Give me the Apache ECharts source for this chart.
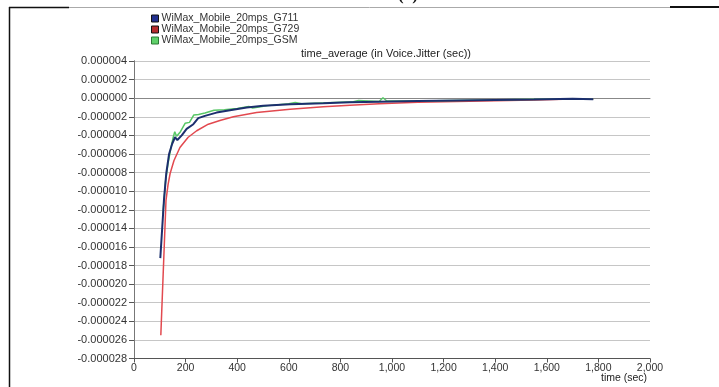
<!DOCTYPE html>
<html>
<head>
<meta charset="utf-8">
<script src="https://cdn.jsdelivr.net/npm/echarts@6/dist/echarts.min.js"></script>
<style>
  html, body { margin: 0; padding: 0; background: #fff; }
  #chart { width: 719px; height: 387px; }
</style>
</head>
<body>
<div id="chart"></div>
<script>
// Voice jitter time averages (seconds) for three codecs over a WiMAX mobile scenario
const seriesNames = ['WiMax_Mobile_20mps_G711', 'WiMax_Mobile_20mps_G729', 'WiMax_Mobile_20mps_GSM'];

const timeG711 = [102, 116, 125, 136, 148, 159, 168, 185, 204, 230, 249, 275, 320, 372, 437, 501, 605, 734, 837, 950, 1100, 1250, 1400, 1550, 1700, 1780];
const jitterG711 = [-0.0000172, -0.0000110, -0.0000081, -0.0000060, -0.0000049, -0.0000042, -0.0000045, -0.0000040, -0.0000033, -0.0000028, -0.00000215, -0.0000019, -0.00000155, -0.0000013, -0.0000010, -0.00000082, -0.00000065, -0.00000055, -0.00000045, -0.00000038, -0.0000003, -0.00000025, -0.0000002, -0.00000015, -0.00000005, -0.00000012];

const timeG729 = [104, 124, 132, 140, 155, 178, 210, 243, 288, 333, 385, 475, 605, 734, 837, 950, 1100, 1250, 1400, 1550, 1700, 1780];
const jitterG729 = [-0.0000255, -0.0000110, -0.0000093, -0.0000081, -0.0000067, -0.0000053, -0.0000042, -0.0000035, -0.0000028, -0.0000024, -0.0000020, -0.00000154, -0.00000118, -0.00000093, -0.00000075, -0.0000006, -0.00000045, -0.00000035, -0.00000028, -0.0000002, -0.0000001, -0.00000012];

const timeGSM = [112, 122, 132, 142, 152, 158, 165, 180, 198, 215, 232, 250, 275, 310, 350, 400, 445, 460, 520, 600, 625, 650, 750, 850, 870, 950, 965, 980, 1100, 1300, 1500, 1700, 1780];
const jitterGSM = [-0.0000125, -0.0000090, -0.0000070, -0.0000055, -0.0000042, -0.0000036, -0.0000041, -0.0000036, -0.0000027, -0.0000026, -0.0000018, -0.00000175, -0.0000016, -0.0000013, -0.00000125, -0.0000011, -0.0000009, -0.00000105, -0.0000008, -0.0000006, -0.00000045, -0.0000006, -0.0000005, -0.00000038, -0.00000025, -0.00000035, 0.00000005, -0.0000003, -0.0000003, -0.00000022, -0.00000015, -0.00000008, -0.00000012];

const xTicks = { min: 0, max: 2000, interval: 200 };
const yTicks = { min: -0.000028, max: 0.000004, interval: 0.000002 };

const titleText = 'time_average (in Voice.Jitter (sec))';
const xAxisTitle = 'time (sec)';

function pairs(xs, ys) { return xs.map((x, i) => [x, ys[i]]); }

const chart = echarts.init(document.getElementById('chart'), null, { renderer: 'canvas' });
const font = 'Arial, "Liberation Sans", sans-serif';

chart.setOption({
  animation: false,
  backgroundColor: '#fff',
  grid: { left: 134, right: 69, top: 61, bottom: 28.5, containLabel: false },
  legend: {
    orient: 'vertical', left: 146, top: 8,
    itemWidth: 7, itemHeight: 7, itemGap: 0, icon: 'rect',
    textStyle: { fontFamily: font, fontSize: 10.5, lineHeight: 10, color: '#333', padding: [0, 0, 0, -2] },
    data: [
      { name: seriesNames[0], itemStyle: { color: '#22308f', borderColor: '#111', borderWidth: 1 } },
      { name: seriesNames[1], itemStyle: { color: '#b52a2d', borderColor: '#111', borderWidth: 1 } },
      { name: seriesNames[2], itemStyle: { color: '#5fd06a', borderColor: '#2c7a34', borderWidth: 1 } }
    ]
  },
  xAxis: [{
    type: 'value', min: xTicks.min, max: xTicks.max, interval: xTicks.interval,
    axisLine: { show: true, onZero: false, lineStyle: { color: '#555', width: 1 } },
    axisTick: { show: true, length: 4, lineStyle: { color: '#555' } },
    axisLabel: {
      fontFamily: font, fontSize: 10.5, color: '#333', margin: 4,
      formatter: v => v.toLocaleString('en-US')
    },
    splitLine: { show: false }
  }, {
    type: 'value', position: 'top', min: xTicks.min, max: xTicks.max,
    axisLine: { show: true, lineStyle: { color: '#888', width: 1 } },
    axisTick: { show: false }, axisLabel: { show: false }, splitLine: { show: false }
  }],
  yAxis: [{
    type: 'value', min: yTicks.min, max: yTicks.max, interval: yTicks.interval,
    axisLine: { show: true, onZero: false, lineStyle: { color: '#555', width: 1 } },
    axisTick: { show: true, length: 5, lineStyle: { color: '#555' } },
    axisLabel: {
      fontFamily: font, fontSize: 11, color: '#333', margin: 7,
      formatter: v => (Math.abs(v) < 1e-12 ? 0 : v).toFixed(6)
    },
    splitLine: { show: true, lineStyle: { color: '#c6c6c6', width: 1 } }
  }, {
    type: 'value', position: 'right', min: yTicks.min, max: yTicks.max,
    axisLine: { show: true, lineStyle: { color: '#777', width: 1 } },
    axisTick: { show: false }, axisLabel: { show: false }, splitLine: { show: false }
  }],
  series: [
    {
      name: seriesNames[1], type: 'line', showSymbol: false, symbol: 'none',
      data: pairs(timeG729, jitterG729),
      lineStyle: { color: '#e2494f', width: 1.5 }, itemStyle: { color: '#b52a2d' }, z: 2
    },
    {
      name: seriesNames[2], type: 'line', showSymbol: false, symbol: 'none',
      data: pairs(timeGSM, jitterGSM),
      lineStyle: { color: '#58c766', width: 1.5 }, itemStyle: { color: '#5fd06a' }, z: 3
    },
    {
      name: seriesNames[0], type: 'line', showSymbol: false, symbol: 'none',
      data: pairs(timeG711, jitterG711),
      lineStyle: { color: '#1c2f6e', width: 2 }, itemStyle: { color: '#22308f' }, z: 4
    }
  ],
  graphic: [
    { type: 'text', left: 301, top: 48, style: { text: titleText, font: '11px ' + font, fill: '#222' } },
    { type: 'text', left: 601, top: 373, style: { text: xAxisTitle, font: '10.5px ' + font, fill: '#222' } },
    { type: 'text', left: 398, top: -13, style: { text: '(a)', font: 'bold 17px "Liberation Serif", serif', fill: '#111' } },
    { type: 'line', shape: { x1: 9.5, y1: 7, x2: 9.5, y2: 387 }, style: { stroke: '#111', lineWidth: 1.5 } },
    { type: 'line', shape: { x1: 9, y1: 7.5, x2: 69, y2: 7.5 }, style: { stroke: '#111', lineWidth: 1.5 } },
    { type: 'line', shape: { x1: 69, y1: 7.5, x2: 670, y2: 7.5 }, style: { stroke: '#aaa', lineWidth: 1 } },
    { type: 'line', shape: { x1: 670, y1: 7, x2: 719, y2: 7 }, style: { stroke: '#111', lineWidth: 2 } }
  ]
});
</script>
</body>
</html>
